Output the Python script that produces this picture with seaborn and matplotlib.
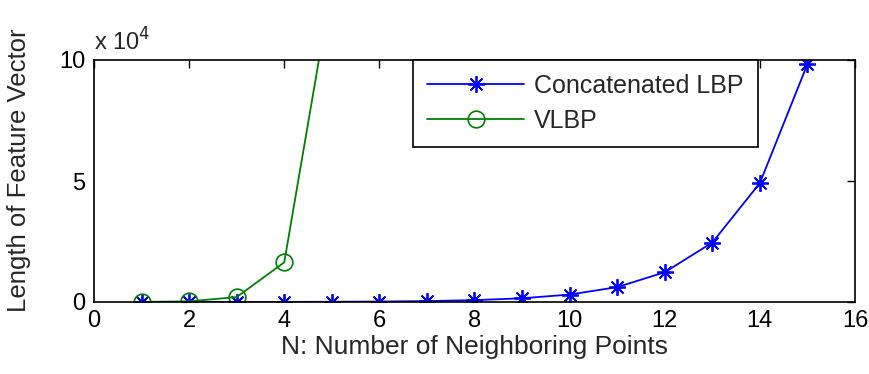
import matplotlib
matplotlib.use('Agg')
import matplotlib.pyplot as plt
import seaborn as sns
import pandas as pd

# values (raw feature-vector lengths)
n_concat = [1, 2, 3, 4, 5, 6, 7, 8, 9, 10, 11, 12, 13, 14, 15]
len_concat = [6, 12, 24, 48, 96, 192, 384, 768, 1536, 3072, 6144, 12288, 24576, 49152, 98304]
n_vlbp = [1, 2, 3, 4, 5]
len_vlbp = [32, 256, 2048, 16384, 131072]

df = pd.concat([
    pd.DataFrame({'N': n_concat, 'len': len_concat, 'method': 'Concatenated LBP'}),
    pd.DataFrame({'N': n_vlbp, 'len': len_vlbp, 'method': 'VLBP'}),
])

sns.set_style('white')
plt.rcParams['font.family'] = ['Liberation Sans', 'DejaVu Sans']

fig = plt.figure(figsize=(8.7, 3.74), dpi=100)
ax = fig.add_axes([94 / 870, 1 - 302 / 374, (855 - 94) / 870, (302 - 60) / 374])

sns.lineplot(data=df[df.method == 'Concatenated LBP'], x='N', y='len', color='#0000ff',
             marker=(8, 2, 0), markersize=12, markeredgecolor='#0000ff', markeredgewidth=1.3,
             lw=1.3, label='Concatenated LBP', ax=ax)
sns.lineplot(data=df[df.method == 'VLBP'], x='N', y='len', color='#008000',
             marker='o', markersize=12, markerfacecolor='none', markeredgecolor='#008000',
             markeredgewidth=1.2, lw=1.3, label='VLBP', ax=ax)

ax.set_xlim(0, 16)
ax.set_ylim(0, 100000)
ax.set_xticks(range(0, 17, 2))
ax.set_yticks([0, 50000, 100000])
ax.set_yticklabels(['0', '5', '10'])
ax.tick_params(direction='in', length=6, width=1, labelsize=17, top=True, right=True,
               colors='black', pad=6)
for s in ax.spines.values():
    s.set_color('black')
    s.set_linewidth(1.2)

ax.set_xlabel('N: Number of Neighboring Points', fontsize=19, labelpad=2)
ax.set_ylabel('Length of Feature Vector', fontsize=18.5)
ax.yaxis.set_label_coords(-0.083, 0.545)
ax.text(0.0, 1.02, r'x 10$^4$', transform=ax.transAxes, fontsize=17, ha='left', va='bottom')

leg = ax.legend(loc='upper left', bbox_to_anchor=((413 - 94) / 761, 1.0), fontsize=18,
                frameon=True, fancybox=False, edgecolor='black', handlelength=3.9,
                handletextpad=0.4, borderpad=0.55, labelspacing=0.45, borderaxespad=0,
                framealpha=1)
leg.get_frame().set_linewidth(1.2)

fig.savefig('out.png', dpi=100)
